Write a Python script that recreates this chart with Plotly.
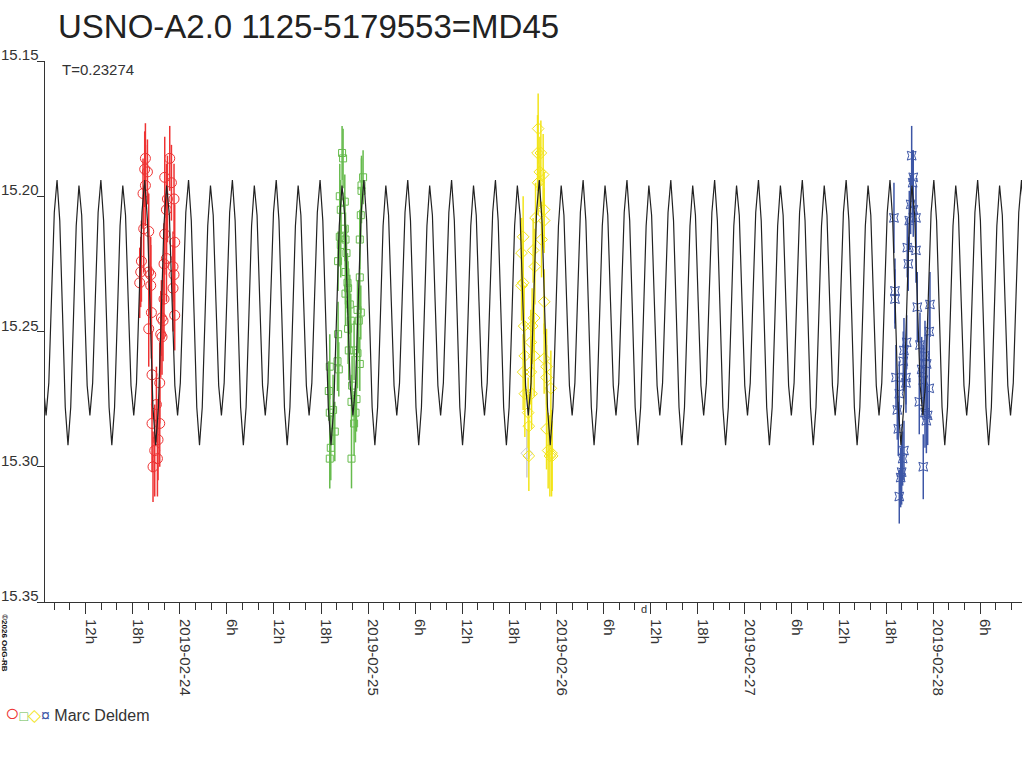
import numpy as np
import pandas as pd
import plotly.graph_objects as go

# times are JD - 2458500, magnitudes in mag
JD0 = 2458500.0
PERIOD = 0.23274
MODEL_EPOCH = 37.9068  # a deep minimum of the fitted curve

# one cycle of the fitted light curve
MODEL_PHASE = [0.0, 0.0625, 0.125, 0.1875, 0.25, 0.3125, 0.375, 0.4375,
               0.5, 0.5625, 0.625, 0.6875, 0.75, 0.8125, 0.875, 0.9375]
MODEL_MAG = [15.292, 15.278, 15.245, 15.211, 15.196, 15.207, 15.239, 15.270,
             15.281, 15.269, 15.237, 15.206, 15.194, 15.209, 15.243, 15.278]

RED_JD = [38.3178, 38.3141, 38.3285, 38.3178, 38.3051, 38.3088, 38.3354, 38.2966, 38.2929, 38.3354,
          38.3460, 38.2876, 38.3460, 38.3497, 38.3354, 38.3529, 38.3938, 38.3763, 38.3529, 38.3938,
          38.3848, 38.3672, 38.3816, 38.3582, 38.4469, 38.4203, 38.4559, 38.4347, 38.4697, 38.4294,
          38.4203, 38.4734, 38.4294, 38.4166, 38.4644, 38.4697, 38.4644, 38.4166, 38.4028, 38.4734,
          38.4113, 38.3991, 38.4060]
RED_MAG = [15.186, 15.190, 15.191, 15.196, 15.199, 15.212, 15.213, 15.224, 15.228, 15.228,
           15.229, 15.232, 15.233, 15.243, 15.249, 15.266, 15.269, 15.277, 15.284, 15.284,
           15.290, 15.294, 15.297, 15.300, 15.186, 15.193, 15.195, 15.201, 15.201, 15.205,
           15.214, 15.217, 15.223, 15.225, 15.226, 15.229, 15.234, 15.238, 15.245, 15.244,
           15.246, 15.251, 15.252]
RED_ERR = [0.013, 0.014, 0.012, 0.015, 0.013, 0.016, 0.014, 0.015, 0.013, 0.016,
           0.014, 0.013, 0.015, 0.017, 0.014, 0.016, 0.015, 0.014, 0.018, 0.016,
           0.015, 0.017, 0.014, 0.013, 0.012, 0.015, 0.014, 0.016, 0.013, 0.017,
           0.015, 0.014, 0.016, 0.015, 0.013, 0.014, 0.016, 0.015, 0.014, 0.013,
           0.015, 0.016, 0.014]

GREEN_JD = [39.3619, 39.3672, 39.3497, 39.3763, 39.3550, 39.3763, 39.3497, 39.3800, 39.3550, 39.3407,
            39.3853, 39.3800, 39.3906, 39.3938, 39.3800, 39.4028, 39.3938, 39.4081, 39.3975, 39.3407,
            39.3375, 39.3444, 39.2966, 39.2913, 39.3141, 39.2966, 39.3232, 39.3019, 39.2966, 39.4734,
            39.4650, 39.4650, 39.4612, 39.4559, 39.4559, 39.4437, 39.4612, 39.4506, 39.4257, 39.4437,
            39.4559, 39.4150, 39.4384, 39.4119, 39.4331, 39.4257, 39.4119]
GREEN_MAG = [15.184, 15.186, 15.200, 15.202, 15.205, 15.212, 15.215, 15.216, 15.218, 15.224,
             15.221, 15.228, 15.232, 15.234, 15.236, 15.240, 15.249, 15.246, 15.257, 15.251,
             15.261, 15.264, 15.263, 15.272, 15.279, 15.280, 15.287, 15.293, 15.297, 15.193,
             15.196, 15.198, 15.207, 15.216, 15.230, 15.242, 15.243, 15.246, 15.257, 15.258,
             15.262, 15.270, 15.275, 15.276, 15.280, 15.284, 15.297]
GREEN_ERR = [0.010, 0.011, 0.012, 0.010, 0.011, 0.012, 0.011, 0.010, 0.012, 0.011,
             0.010, 0.012, 0.011, 0.010, 0.012, 0.011, 0.013, 0.010, 0.011, 0.012,
             0.011, 0.010, 0.012, 0.011, 0.013, 0.010, 0.011, 0.012, 0.011, 0.010,
             0.011, 0.012, 0.010, 0.011, 0.012, 0.011, 0.010, 0.012, 0.011, 0.013,
             0.010, 0.011, 0.012, 0.010, 0.011, 0.012, 0.011]

YELLOW_JD = [40.4028, 40.3996, 40.4172, 40.4118, 40.4294, 40.4028, 40.4347, 40.3890, 40.4347, 40.4209,
             40.3232, 40.3147, 40.3763, 40.3853, 40.3232, 40.3147, 40.4347, 40.3285, 40.3816, 40.3709,
             40.3640, 40.3322, 40.3816, 40.3232, 40.3640, 40.4347, 40.4474, 40.3322, 40.3678, 40.4474,
             40.4703, 40.3497, 40.3534, 40.4474, 40.3534, 40.4559, 40.4740, 40.4650, 40.4772]
YELLOW_MAG = [15.175, 15.184, 15.184, 15.191, 15.192, 15.195, 15.205, 15.208, 15.209, 15.216,
              15.215, 15.221, 15.220, 15.226, 15.232, 15.233, 15.239, 15.248, 15.245, 15.248,
              15.254, 15.259, 15.259, 15.265, 15.265, 15.260, 15.263, 15.273, 15.273, 15.267,
              15.271, 15.280, 15.285, 15.286, 15.296, 15.294, 15.295, 15.296, 15.296]
YELLOW_ERR = [0.013, 0.014, 0.012, 0.013, 0.015, 0.012, 0.014, 0.013, 0.012, 0.014,
              0.015, 0.013, 0.012, 0.014, 0.016, 0.013, 0.012, 0.015, 0.013, 0.014,
              0.012, 0.013, 0.015, 0.014, 0.012, 0.013, 0.014, 0.016, 0.013, 0.012,
              0.014, 0.013, 0.012, 0.015, 0.013, 0.014, 0.016, 0.015, 0.013]

# rejected point (grey)
GREY_JD = [40.3428]
GREY_MAG = [15.295]
GREY_ERR = [0.009]

BLUE_JD = [42.3858, 42.3943, 42.3911, 42.3805, 42.3943, 42.4087, 42.3731, 42.2918, 42.4087, 42.3624,
           42.3678, 42.2971, 42.2971, 42.4156, 42.4830, 42.4793, 42.3593, 42.3449, 42.3412, 42.4299,
           42.4565, 42.4655, 42.3025, 42.3555, 42.3555, 42.4389, 42.4474, 42.4793, 42.3200, 42.3094,
           42.3147, 42.4262, 42.4565, 42.4708, 42.4639, 42.3449, 42.3380, 42.3327, 42.3274, 42.4474,
           42.3200]
BLUE_MAG = [15.185, 15.193, 15.195, 15.203, 15.205, 15.208, 15.209, 15.208, 15.220, 15.219,
            15.225, 15.235, 15.238, 15.241, 15.240, 15.250, 15.254, 15.257, 15.261, 15.255,
            15.259, 15.262, 15.267, 15.267, 15.269, 15.264, 15.268, 15.271, 15.273, 15.279,
            15.286, 15.276, 15.280, 15.281, 15.283, 15.294, 15.297, 15.302, 15.304, 15.300,
            15.311]
BLUE_ERR = [0.011, 0.010, 0.012, 0.011, 0.010, 0.012, 0.011, 0.013, 0.012, 0.011,
            0.010, 0.012, 0.011, 0.013, 0.012, 0.011, 0.010, 0.012, 0.011, 0.012,
            0.013, 0.011, 0.012, 0.010, 0.011, 0.012, 0.013, 0.011, 0.012, 0.011,
            0.010, 0.012, 0.013, 0.011, 0.012, 0.011, 0.010, 0.012, 0.011, 0.012,
            0.010]

X_RANGE = ["2019-02-23 06:50", "2019-02-28 11:19"]
X_TICKS = ["2019-02-23 12:00", "2019-02-23 18:00",
           "2019-02-24 00:00", "2019-02-24 06:00", "2019-02-24 12:00", "2019-02-24 18:00",
           "2019-02-25 00:00", "2019-02-25 06:00", "2019-02-25 12:00", "2019-02-25 18:00",
           "2019-02-26 00:00", "2019-02-26 06:00", "2019-02-26 12:00", "2019-02-26 18:00",
           "2019-02-27 00:00", "2019-02-27 06:00", "2019-02-27 12:00", "2019-02-27 18:00",
           "2019-02-28 00:00", "2019-02-28 06:00"]
X_LABELS = ["12h", "18h",
            "2019-02-24", "6h", "12h", "18h",
            "2019-02-25", "6h", "12h", "18h",
            "2019-02-26", "6h", "12h", "18h",
            "2019-02-27", "6h", "12h", "18h",
            "2019-02-28", "6h"]
Y_TICKS = [15.15, 15.20, 15.25, 15.30, 15.35]
Y_LABELS = ["15.15", "15.20", "15.25", "15.30", "15.35"]
D_MARK = "2019-02-26 11:08"

FONT = "Liberation Sans, Arial, sans-serif"
TXT = "#333333"


def to_time(jd):
    return pd.to_datetime(np.asarray(jd) + JD0, unit="D", origin="julian")


fig = go.Figure()

groups = [
    (RED_JD, RED_MAG, RED_ERR, "#ee3333", "circle-open", 10),
    (GREEN_JD, GREEN_MAG, GREEN_ERR, "#66bb4d", "square-open", 7),
    (GREY_JD, GREY_MAG, GREY_ERR, "#cccccc", "diamond-open", 9),
    (YELLOW_JD, YELLOW_MAG, YELLOW_ERR, "#f2e41a", "diamond-open", 9),
    (BLUE_JD, BLUE_MAG, BLUE_ERR, "#3d56a6", "star-square-open", 8),
]
for jd, mag, err, color, symbol, size in groups:
    fig.add_trace(go.Scatter(
        x=to_time(jd), y=mag, mode="markers",
        marker=dict(symbol=symbol, size=size, color=color, line=dict(width=1, color=color)),
        error_y=dict(type="data", array=err, color=color, thickness=1.5, width=0),
        hoverinfo="x+y",
    ))

# fitted curve, one cycle repeated with the period
cycles = np.arange(-1, 23)
model_jd = (MODEL_EPOCH + (cycles[:, None] + np.array(MODEL_PHASE)[None, :]) * PERIOD).ravel()
model_mag = np.tile(MODEL_MAG, len(cycles))
fig.add_trace(go.Scatter(
    x=to_time(model_jd), y=model_mag, mode="lines",
    line=dict(color="#222222", width=1.2), hoverinfo="skip",
))

annotations = []
for val, lab in zip(Y_TICKS, Y_LABELS):
    annotations.append(dict(
        x=0, xref="paper", y=val, yref="y", text=lab, showarrow=False,
        xanchor="right", yanchor="bottom", xshift=-4, yshift=-4,
        font=dict(family=FONT, size=15, color=TXT),
    ))
annotations += [
    dict(x=0.0154, xref="paper", y=0.985, yref="paper", text="T=0.23274", showarrow=False,
         xanchor="left", yanchor="middle", font=dict(family=FONT, size=15, color=TXT)),
    dict(x=D_MARK, xref="x", y=0, yref="paper", text="d", showarrow=False,
         xanchor="center", yanchor="top", yshift=1, font=dict(family=FONT, size=11, color=TXT)),
    dict(x=-0.041, xref="paper", y=-0.076, yref="paper", text="<b>©2026 OdG-RB</b>", showarrow=False,
         textangle=90, xanchor="center", yanchor="middle", font=dict(family=FONT, size=8, color="#111111")),
    dict(x=-0.043, xref="paper", y=-0.205, yref="paper", showarrow=False,
         xanchor="left", yanchor="middle",
         text=("<span style='color:#ee3333;font-size:24px'>○</span>"
               "<span style='color:#66bb4d;font-size:14px'>□</span>"
               "<span style='color:#f2e41a;font-size:17px'>◇</span>"
               "<span style='color:#3d56a6;font-size:16px'>¤</span>"
               " Marc Deldem"),
         font=dict(family=FONT, size=16, color=TXT)),
]

fig.update_layout(
    width=1024, height=768,
    margin=dict(l=45, r=2, t=61, b=166, autoexpand=False),
    paper_bgcolor="white", plot_bgcolor="white",
    showlegend=False,
    font=dict(family=FONT, size=15, color=TXT),
    title=dict(text="USNO-A2.0 1125-5179553=MD45", x=0.0133, xref="paper", xanchor="left",
               y=0.965, yref="container", yanchor="middle",
               font=dict(family=FONT, size=33, color="#222222")),
    xaxis=dict(
        type="date", range=X_RANGE, automargin=False,
        tickmode="array", tickvals=X_TICKS, ticktext=X_LABELS,
        tickangle=90, ticks="outside", ticklen=11, tickcolor=TXT, tickwidth=1,
        ticklabelshift=5, ticklabelstandoff=2,
        minor=dict(dtick=2 * 3600 * 1000, tick0="2019-02-24", ticks="outside",
                   ticklen=7, tickcolor=TXT, tickwidth=1),
        showline=True, linecolor=TXT, linewidth=1,
        showgrid=False, zeroline=False,
        tickfont=dict(family=FONT, size=15, color=TXT),
    ),
    yaxis=dict(
        range=[15.35, 15.15], tickmode="array", tickvals=Y_TICKS, automargin=False,
        showticklabels=False, ticks="outside", ticklen=7, tickcolor=TXT,
        showline=True, linecolor=TXT, linewidth=1,
        showgrid=False, zeroline=False,
    ),
    annotations=annotations,
)

# drop the browser's default body margin so the figure sits at the page corner
fig.write_html("out.html", config={"displayModeBar": False},
               post_script="document.body.style.margin='0';")
